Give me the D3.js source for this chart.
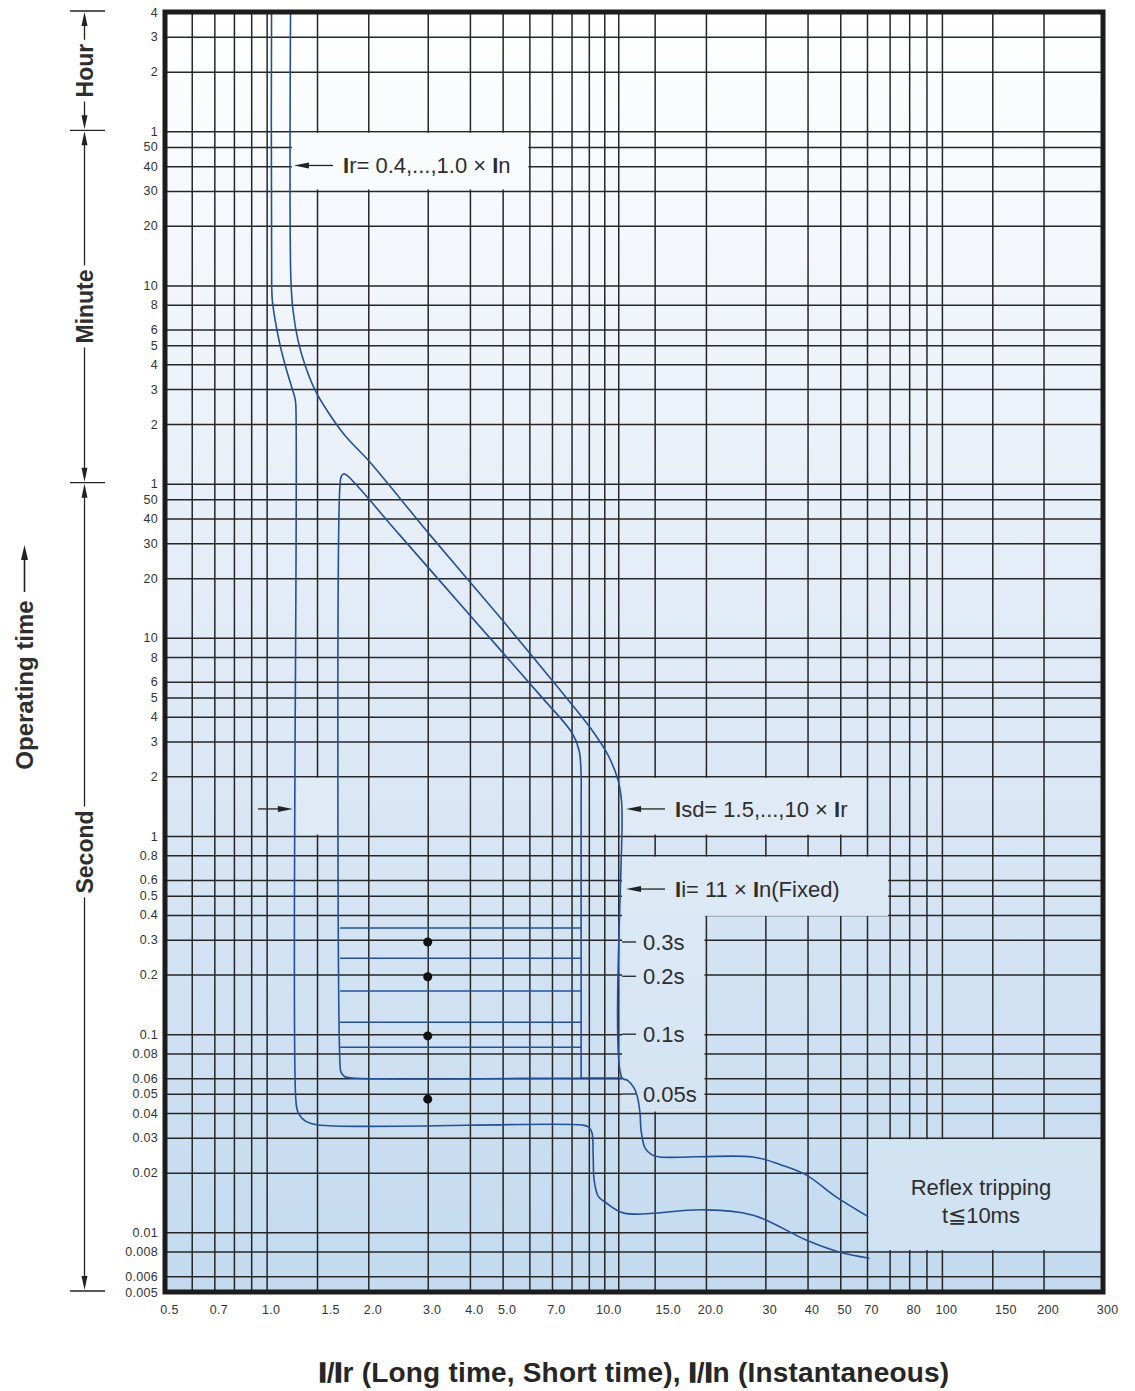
<!DOCTYPE html>
<html><head><meta charset="utf-8">
<script src="https://cdn.jsdelivr.net/npm/d3@7"></script>
<style>body{margin:0;background:#fff}svg{display:block}</style>
</head><body><svg id="c" width="1135" height="1391"></svg>
<script>
// ---------------- data ----------------
const xTickValues = [0.5,0.7,1,1.5,2,3,4,5,7,10,15,20,30,40,50,60,80,100,150,200,300];
const xTickLabels = ["0.5","0.7","1.0","1.5","2.0","3.0","4.0","5.0","7.0","10.0","15.0","20.0","30","40","50","70","80","100","150","200","300"];
const xGridValues = [0.6,0.7,0.8,0.9,1,1.41,2,3,4,5,6,7,8,9,10,11,14.1,20,30,40,50,60,70,80,90,100,141,200];
const yTickSeconds = [14400,10800,7200,3600,3000,2400,1800,1200,600,480,360,300,240,180,120,60,50,40,30,20,10,8,6,5,4,3,2,1,0.8,0.6,0.5,0.4,0.3,0.2,0.1,0.08,0.06,0.05,0.04,0.03,0.02,0.01,0.008,0.006,0.005];
const yTickLabels = ["4","3","2","1","50","40","30","20","10","8","6","5","4","3","2","1","50","40","30","20","10","8","6","5","4","3","2","1","0.8","0.6","0.5","0.4","0.3","0.2","0.1","0.08","0.06","0.05","0.04","0.03","0.02","0.01","0.008","0.006","0.005"];
const unitBounds = [14400,3600,60,0.005];
const unitNames = ["Hour","Minute","Second"];

// curves: [I multiple, time in seconds]
const curveLeft = [[1.035,30000],[1.035,600],[1.04,500],[1.06,400],[1.096,300],[1.141,230],[1.189,182],[1.213,162],[1.22,150],[1.22,0.047],[1.238,0.0405],[1.3,0.0365],[1.42,0.0348],[8.6,0.0348],[8.99,0.034],[9.2,0.0317],[9.27,0.0246],[9.33,0.0184],[9.6,0.0152],[10.12,0.0141],[11.45,0.0125],[19.6,0.013],[27.6,0.0122],[39.6,0.00915],[49.6,0.00796],[61,0.0074]];
const curveRight = [[1.18,30000],[1.18,640],[1.197,450],[1.238,318],[1.299,238],[1.391,178],[1.52,138],[1.706,105],[2.024,77],[3.05,33],[4.91,12.7],[7.4,5.45],[9.2,3.42],[10.26,2.56],[10.98,1.92],[11.25,1.5],[11.29,1.2],[11.29,0.0601],[11.72,0.0585],[12.25,0.0536],[12.53,0.0484],[12.76,0.04],[12.85,0.0328],[13.21,0.0266],[13.85,0.0246],[14.6,0.024],[27.6,0.024],[33.4,0.0219],[39.6,0.0195],[48.6,0.0151],[61,0.0119]];
const curveInner = [[11.29,0.0601],[8.54,0.0601],[1.8,0.0601],[1.7,0.0612],[1.66,0.0645],[1.65,0.07],[1.65,60],[1.665,65.5],[1.69,67.2],[1.73,66],[2.48,33],[4.0,13.0],[6.45,5.14],[8.03,3.31],[8.42,2.71],[8.54,2.03],[8.54,1.5],[8.54,0.0601]];
const delayTimes = [0.343,0.242,0.165,0.115,0.086];
const delayBand = [1.65,8.54];
const dotCurrent = 3.0;
const dotTimes = [0.292,0.195,0.098,0.047];
const delayLabels = ["0.3s","0.2s","0.1s","0.05s"];
const delayLabelTimes = [0.292,0.196,0.1,0.0499];

// ---------------- chart ----------------
const X0=165, X1=1103, Y0=1292, Y1=12;
const x = d3.scaleLog().domain([0.5,300]).range([X0,X1]);
const y = d3.scaleLog().domain([0.005,14400]).range([Y0,Y1]);
const FONT = "'Liberation Sans', Arial, Helvetica, sans-serif";
const BLUE = "#24509a", GRID = "#262626", TXT = "#2e2e2e";

const svg = d3.select("#c");
const defs = svg.append("defs");
const grad = defs.append("linearGradient").attr("id","bg").attr("gradientUnits","userSpaceOnUse")
  .attr("x1",0).attr("y1",Y1).attr("x2",0).attr("y2",Y0);
grad.append("stop").attr("offset",0).attr("stop-color","#ffffff");
grad.append("stop").attr("offset",0.45).attr("stop-color","#e3ecf7");
grad.append("stop").attr("offset",1).attr("stop-color","#c3daef");
defs.append("clipPath").attr("id","plot").append("rect")
  .attr("x",X0).attr("y",Y1).attr("width",X1-X0).attr("height",Y0-Y1);

svg.append("rect").attr("x",X0).attr("y",Y1).attr("width",X1-X0).attr("height",Y0-Y1).attr("fill","url(#bg)");

// grid
const gx = svg.append("g").attr("transform",`translate(0,${Y0})`)
  .call(d3.axisBottom(x).tickValues(xGridValues).tickSize(-(Y0-Y1)).tickFormat(""));
gx.select(".domain").remove();
gx.selectAll("line").attr("stroke",GRID).attr("stroke-width",1.5);
const gy = svg.append("g").attr("transform",`translate(${X0},0)`)
  .call(d3.axisLeft(y).tickValues(yTickSeconds.filter(d=>d<14400&&d>0.005)).tickSize(-(X1-X0)).tickFormat(""));
gy.select(".domain").remove();
gy.selectAll("line").attr("stroke",GRID).attr("stroke-width",1.5);

// annotation boxes (hide grid)
function box(xa,xb,ya,yb){
  const g = svg.append("g");
  const r = {x:Math.min(xa,xb),y:Math.min(ya,yb),w:Math.abs(xb-xa),h:Math.abs(yb-ya)};
  g.append("rect").attr("x",r.x).attr("y",r.y).attr("width",r.w).attr("height",r.h).attr("fill","url(#bg)");
  g.append("rect").attr("x",r.x).attr("y",r.y).attr("width",r.w).attr("height",r.h).attr("fill","#fff").attr("opacity",0.18);
}
box(x(1.18)+1, x(6)-1, y(3600)+1.5, y(1800)-1.5);
box(x(11.29), x(60)-1.5, y(2)+1.5, y(1)-1.5);
box(x(11.29), x(70)-1.5, y(0.8)+1.5, y(0.4)+1);
box(x(11.29), x(20)-1.5, y(0.4)-1, y(0.04)-1.5);
box(x(1.22)+1, x(1.65)-1, y(2)+1.5, y(1)-1.5);

// curves
const line = d3.line().x(d=>x(d[0])).y(d=>y(d[1])).curve(d3.curveCatmullRom.alpha(0.5));
const cg = svg.append("g").attr("clip-path","url(#plot)");
[curveLeft,curveRight,curveInner].forEach(c=>{
  cg.append("path").attr("d",line(c)).attr("fill","none").attr("stroke",BLUE).attr("stroke-width",1.6);
});
cg.selectAll(".dl").data(delayTimes).join("line")
  .attr("x1",x(delayBand[0])).attr("x2",x(delayBand[1]))
  .attr("y1",d=>y(d)).attr("y2",d=>y(d)).attr("stroke",BLUE).attr("stroke-width",1.5);
// reflex box drawn over curve ends
box(x(60)+1.5, X1, y(0.03)+1.5, y(0.008)-1.5);

svg.selectAll(".dot").data(dotTimes).join("circle")
  .attr("cx",x(dotCurrent)).attr("cy",d=>y(d)).attr("r",4.5).attr("fill","#111");

// border
svg.append("rect").attr("x",X0).attr("y",Y1).attr("width",X1-X0).attr("height",Y0-Y1)
  .attr("fill","none").attr("stroke","#1c1c1c").attr("stroke-width",5);

// y tick labels
const ay = svg.append("g").attr("transform",`translate(${X0},0)`)
  .call(d3.axisLeft(y).tickValues(yTickSeconds).tickSize(0).tickPadding(7).tickFormat((d,i)=>yTickLabels[i]));
ay.select(".domain").remove();
ay.selectAll("text").attr("font-family",FONT).attr("font-size",12.5).attr("letter-spacing",0.3).attr("fill","#333");
// x tick labels
const ax = svg.append("g").attr("transform",`translate(0,${Y0})`)
  .call(d3.axisBottom(x).tickValues(xTickValues).tickSize(0).tickPadding(13).tickFormat((d,i)=>xTickLabels[i]));
ax.select(".domain").remove();
ax.selectAll("text").attr("font-family",FONT).attr("font-size",12.5).attr("letter-spacing",0.3).attr("fill","#333").attr("x",4);

// arrow helper (horizontal)
function harrow(xs,xe,yy){
  const dir = Math.sign(xe-xs);
  svg.append("line").attr("x1",xs).attr("x2",xe-dir*10).attr("y1",yy).attr("y2",yy).attr("stroke","#222").attr("stroke-width",1.3);
  svg.append("path").attr("d",`M${xe},${yy} L${xe-dir*15},${yy-3} L${xe-dir*15},${yy+3} Z`).attr("fill","#222");
}
function label(tx,ty,parts,size){
  const t = svg.append("text").attr("x",tx).attr("y",ty).attr("dy","0.35em")
    .attr("font-family",FONT).attr("font-size",size||22).attr("fill",TXT);
  parts.forEach(p=>{
    const s = t.append("tspan").text(p[0]);
    if(p[1]) s.attr("font-weight","bold");
  });
  return t;
}
const yIr = y(2420);
harrow(333, x(1.18)+3, yIr);
label(343, yIr, [["I",1],["r= 0.4,...,1.0 × "],["I",1],["n"]]);
const yIsd = y(1.37);
harrow(665, x(11.29)+4, yIsd);
label(675, yIsd, [["I",1],["sd= 1.5,...,10 × "],["I",1],["r"]]);
const yIi = y(0.54);
harrow(665, x(11.29)+4, yIi);
label(675, yIi, [["I",1],["i= 11 × "],["I",1],["n(Fixed)"]]);
harrow(258, x(1.22)-3, y(1.37));

// delay labels with ticks
delayLabelTimes.forEach((t,i)=>{
  svg.append("line").attr("x1",x(11.29)).attr("x2",x(11.29)+14).attr("y1",y(t)).attr("y2",y(t)).attr("stroke","#222").attr("stroke-width",1.3);
  label(643, y(t), [[delayLabels[i]]]);
});

// reflex text
const rcx = (x(60)+X1)/2 - 4;
svg.append("text").attr("x",rcx).attr("y",y(0.0168)).attr("dy","0.35em").attr("text-anchor","middle")
  .attr("font-family",FONT).attr("font-size",22).attr("fill",TXT).text("Reflex tripping");
svg.append("text").attr("x",rcx).attr("y",y(0.0122)).attr("dy","0.35em").attr("text-anchor","middle")
  .attr("font-family",FONT).attr("font-size",22).attr("fill",TXT).text("t≦10ms");

// time units on left
const UX = 84.5;
unitBounds.forEach(b=>{
  svg.append("line").attr("x1",70).attr("x2",105).attr("y1",y(b)-1).attr("y2",y(b)-1).attr("stroke","#222").attr("stroke-width",1.3);
});
unitNames.forEach((n,i)=>{
  const top = y(unitBounds[i])-1, bot = y(unitBounds[i+1])-1;
  const cy = i<2 ? (top+bot)/2 : 852;
  const t = svg.append("text").attr("transform",`translate(93,${cy}) rotate(-90)`).attr("text-anchor","middle")
    .attr("font-family",FONT).attr("font-size",23).attr("font-weight","bold").attr("fill",TXT).text(n);
  const w = t.node().getComputedTextLength();
  svg.append("line").attr("x1",UX).attr("x2",UX).attr("y1",top+10).attr("y2",cy-w/2-4).attr("stroke","#222").attr("stroke-width",1.3);
  svg.append("line").attr("x1",UX).attr("x2",UX).attr("y1",cy+w/2+4).attr("y2",bot-10).attr("stroke","#222").attr("stroke-width",1.3);
  svg.append("path").attr("d",`M${UX},${top+1} L${UX-3},${top+15} L${UX+3},${top+15} Z`).attr("fill","#222");
  svg.append("path").attr("d",`M${UX},${bot-1} L${UX-3},${bot-15} L${UX+3},${bot-15} Z`).attr("fill","#222");
});

// Operating time
svg.append("text").attr("transform","translate(33,685) rotate(-90)").attr("text-anchor","middle")
  .attr("font-family",FONT).attr("font-size",24).attr("font-weight","bold").attr("fill",TXT).text("Operating time");
svg.append("line").attr("x1",24.5).attr("x2",24.5).attr("y1",592).attr("y2",556).attr("stroke","#222").attr("stroke-width",1.6);
svg.append("path").attr("d","M24.5,545 L21,560 L28,560 Z").attr("fill","#222");

// x title
const xt = svg.append("text").attr("x",634).attr("y",1382).attr("text-anchor","middle")
  .attr("font-family",FONT).attr("font-size",28).attr("font-weight","bold").attr("letter-spacing",0.2).attr("fill","#262626");
[["I",1],["/"],["I",1],["r (Long time, Short time), "],["I",1],["/"],["I",1],["n (Instantaneous)"]].forEach(p=>{
  const s = xt.append("tspan").text(p[0]);
  if(p[1]) s.attr("stroke","#262626").attr("stroke-width",1.4);
});
</script></body></html>
